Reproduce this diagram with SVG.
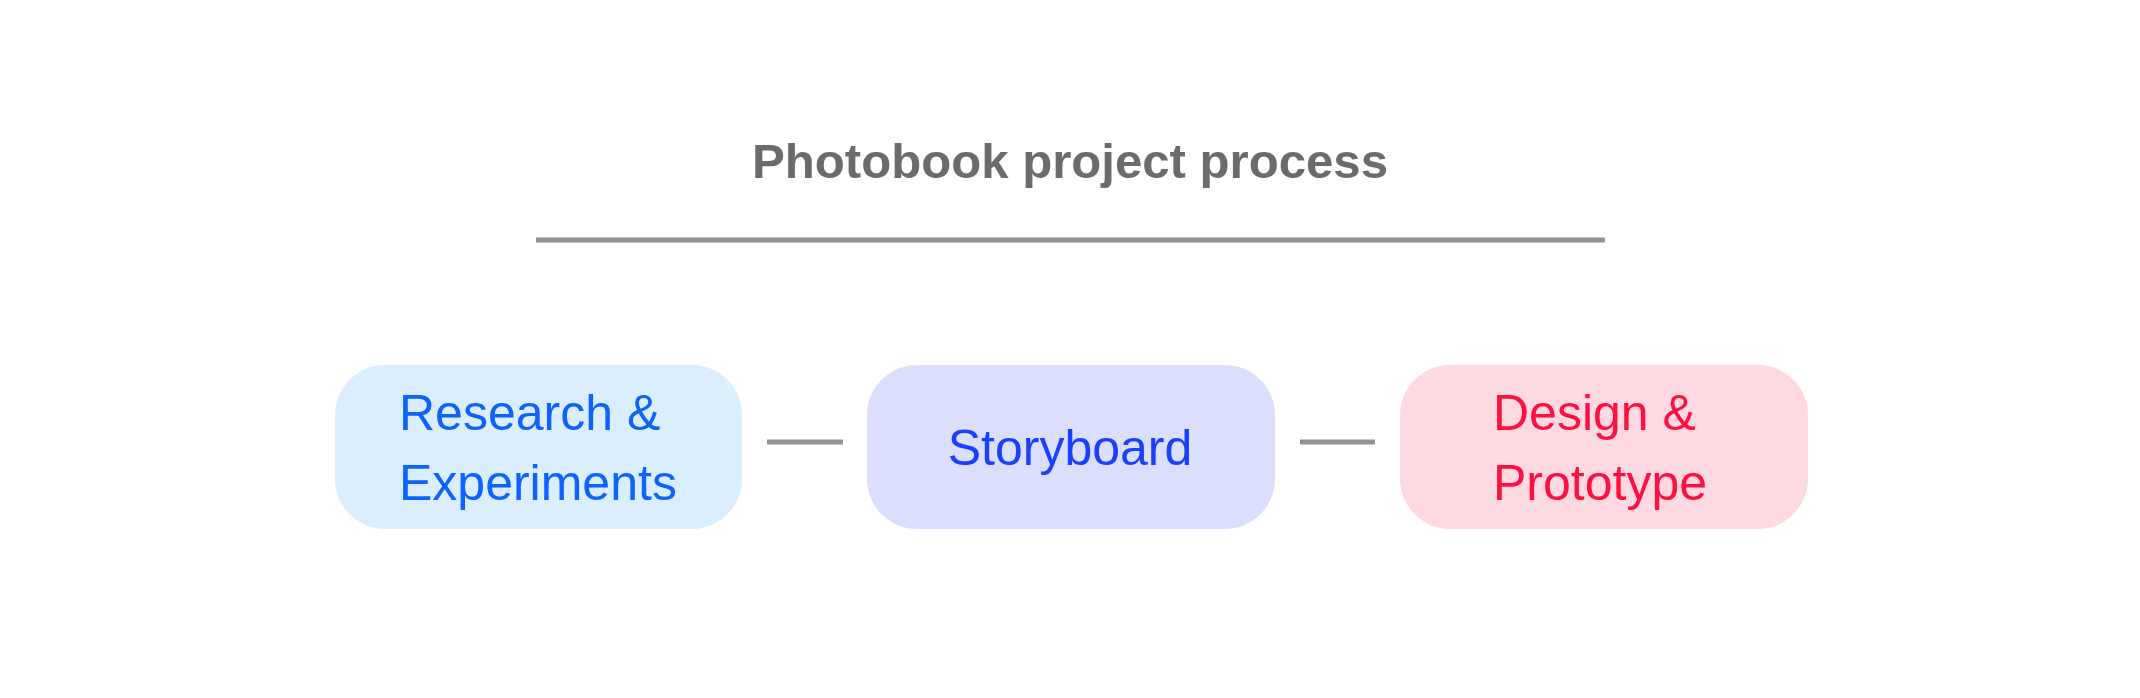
<svg xmlns="http://www.w3.org/2000/svg" width="2140" height="698" viewBox="0 0 2140 698">
<style>
.title{font-family:"Liberation Sans",Arial,sans-serif;font-size:49px;font-weight:bold;fill:#6b6b6b}
.lbl{font-family:"Liberation Sans",Arial,sans-serif;font-size:50px}
.conn{stroke:#939393;stroke-width:5;fill:none}
</style>
<rect x="0" y="0" width="2140" height="698" fill="#ffffff"/>
<g id="title">
<text class="title" x="1070" y="178" text-anchor="middle" textLength="636" lengthAdjust="spacingAndGlyphs">Photobook project process</text>
<line x1="536" y1="240" x2="1605" y2="240" stroke="#939393" stroke-width="5"/>
</g>
<g id="connectors">
<line class="conn" x1="767" y1="442" x2="843" y2="442"/>
<line class="conn" x1="1300" y1="442" x2="1375" y2="442"/>
</g>
<g id="node-research">
<rect x="335" y="365" width="407" height="164" rx="50" ry="50" fill="#DAEEFF"/>
<text class="lbl" fill="#0D63FF"><tspan x="399" y="430">Research &amp;</tspan><tspan x="399" y="500">Experiments</tspan></text>
</g>
<g id="node-storyboard">
<rect x="867" y="365" width="408" height="164" rx="50" ry="50" fill="#DCDEFD"/>
<text class="lbl" fill="#1A40FF" x="1070" y="465" text-anchor="middle">Storyboard</text>
</g>
<g id="node-design">
<rect x="1400" y="365" width="408" height="164" rx="50" ry="50" fill="#FFD9E2"/>
<text class="lbl" fill="#FF1040"><tspan x="1493" y="430">Design &amp;</tspan><tspan x="1493" y="500">Prototype</tspan></text>
</g>
</svg>
